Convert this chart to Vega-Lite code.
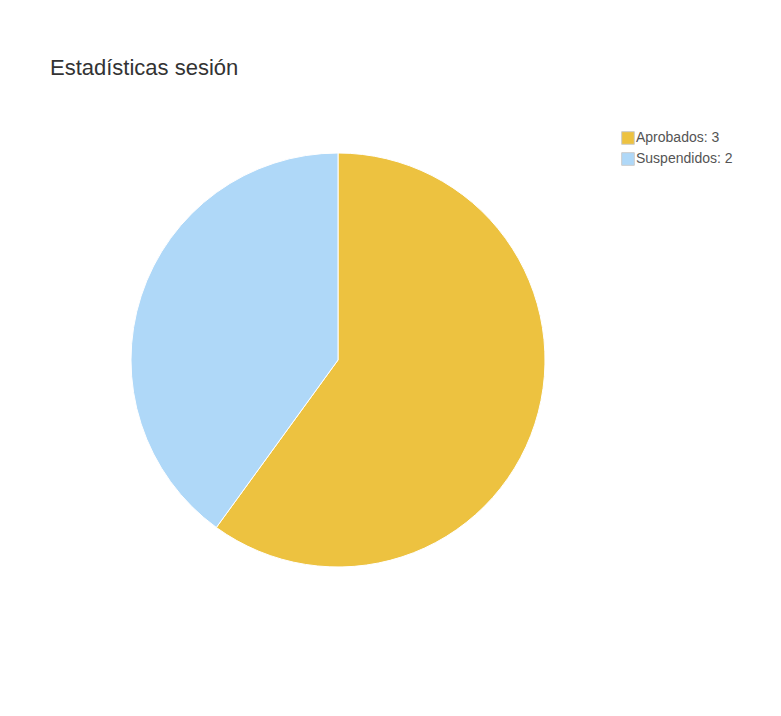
{
  "$schema": "https://vega.github.io/schema/vega-lite/v6.json",
  "autosize": {"type": "none"},
  "width": 414,
  "height": 414,
  "padding": {"left": 131, "top": 153, "right": 236, "bottom": 149},
  "background": "white",
  "title": {
    "text": "Estadísticas sesión",
    "anchor": "start",
    "orient": "top",
    "frame": "group",
    "dx": -81,
    "offset": 51,
    "font": "Liberation Sans",
    "fontSize": 22,
    "fontWeight": "normal",
    "color": "#333333"
  },
  "data": {
    "values": [
      {"serie": "Aprobados", "etiqueta": "Aprobados: 3", "valor": 3},
      {"serie": "Suspendidos", "etiqueta": "Suspendidos: 2", "valor": 2}
    ]
  },
  "mark": {"type": "arc", "stroke": "white", "strokeWidth": 1, "outerRadius": 207},
  "encoding": {
    "theta": {"field": "valor", "type": "quantitative", "stack": true},
    "color": {
      "field": "etiqueta",
      "type": "nominal",
      "sort": ["Aprobados: 3", "Suspendidos: 2"],
      "scale": {"domain": ["Aprobados: 3", "Suspendidos: 2"], "range": ["#edc240", "#afd8f8"]},
      "legend": {
        "title": null,
        "orient": "none",
        "legendX": 490,
        "legendY": -22,
        "symbolType": "square",
        "symbolSize": 160,
        "symbolStrokeColor": "#cccccc",
        "symbolStrokeWidth": 1,
        "symbolOpacity": 1,
        "labelFont": "Liberation Sans",
        "labelFontSize": 14,
        "labelColor": "#545454",
        "labelOffset": 1,
        "rowPadding": 3,
        "padding": 0
      }
    },
    "order": {"field": "serie", "type": "nominal"}
  },
  "view": {"stroke": null}
}
